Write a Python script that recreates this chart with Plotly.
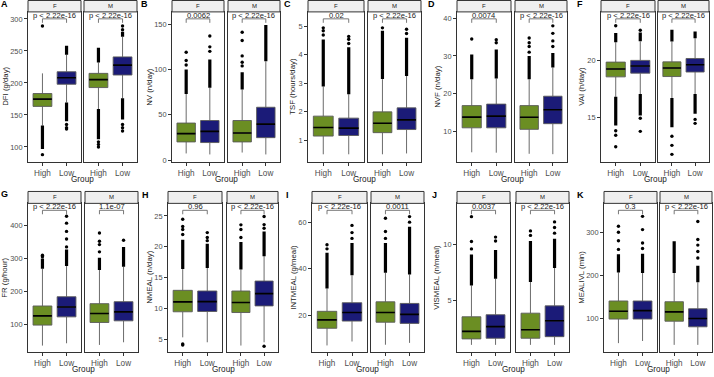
import plotly.graph_objects as go

# ---------------- data ----------------
groups = ["High", "Low"]
sexes = ["F", "M"]
panel_letters = ["A", "B", "C", "D", "F", "G", "H", "I", "J", "K"]
ytitles = ["DFI (g/day)", "NV (n/day)", "TSF (hours/day)", "NVF (n/day)", "VAI (h/day)",
           "FR (g/hour)", "NMEAL (n/day)", "INTMEAL (g/meal)", "VISMEAL (n/meal)", "MEALIVL (min)"]
ytickvals = [[100, 150, 200, 250, 300], [0, 50, 100, 150], [1, 2, 3, 4, 5], [10, 20, 30, 40], [15, 20],
             [100, 200, 300, 400], [5, 10, 15, 20, 25], [20, 40, 60], [5, 10], [100, 200, 300]]
yranges = [[77, 311], [-1.6, 163.5], [0.25, 5.51], [1.9, 41.7], [11.05, 24.33],
           [16, 467], [2.97, 27.03], [4, 68.1], [0.41, 13.65], [21, 367]]
pval_F = ["p < 2.22e-16", "0.0062", "0.02", "0.0074", "p < 2.22e-16",
          "p < 2.22e-16", "0.96", "p < 2.22e-16", "0.0037", "0.3"]
pval_M = ["p < 2.22e-16", "p < 2.22e-16", "p < 2.22e-16", "p < 2.22e-16", "p < 2.22e-16",
          "1.1e-07", "p < 2.22e-16", "0.0011", "p < 2.22e-16", "p < 2.22e-16"]

# box statistics; rows: F-High, F-Low, M-High, M-Low
# columns: lower whisker, Q1, median, Q3, upper whisker
DFI = [[133.5, 163.4, 174.7, 183.5, 215], [169.6, 198, 208.2, 217.5, 244],
       [159.3, 192.8, 205.2, 215, 232], [176, 212.4, 227.8, 240.7, 272]]
DFI_dense = [[[97, 133.5]], [[140, 169.6], [244, 258]], [[112, 159.3], [232, 255]], [[143, 176], [272, 280]]]
DFI_pts = [[88, 289], [135, 130, 128], [108, 104, 100], [135, 130, 125, 283, 289]]

NV = [[7.5, 20.2, 29.3, 41, 73], [6.4, 19.5, 31.8, 43.8, 80],
      [8.5, 20.2, 30, 43.8, 78], [6.4, 24.9, 39.8, 58.4, 109]]
NV_dense = [[[73, 100]], [[80, 111]], [[78, 97]], [[109, 149]]]
NV_pts = [[105, 110, 119], [120, 125, 137], [104, 108, 115, 132, 141], []]

TSF = [[0.51, 1.15, 1.45, 1.85, 2.89], [0.51, 1.17, 1.43, 1.78, 2.62],
       [0.51, 1.27, 1.6, 2.0, 3.15], [0.54, 1.38, 1.72, 2.14, 3.26]]
TSF_dense = [[[2.89, 4.54]], [[2.62, 4.27]], [[3.15, 4.85]], [[3.26, 4.6]]]
TSF_pts = [[4.7, 4.85, 4.95], [4.4, 4.55, 4.65], [4.95], [4.75, 4.9]]

NVF = [[4.4, 10.9, 13.75, 16.8, 23.8], [4.3, 10.9, 14.0, 17.2, 24.0],
       [4.0, 10.5, 13.7, 16.8, 23.8], [3.9, 12.0, 15.7, 19.3, 26.9]]
NVF_dense = [[[23.8, 30.4]], [[24, 31.7]], [[23.8, 30]], [[26.9, 30.8]]]
NVF_pts = [[34.5], [33.5, 34.3], [31, 32.5, 33.5, 34.75], [32.5, 34, 36, 38]]

VAI = [[16.8, 18.57, 19.27, 19.88, 21.64], [17.05, 18.9, 19.53, 20.03, 21.72],
       [16.7, 18.6, 19.36, 19.9, 21.7], [17.05, 19.0, 19.65, 20.2, 22.0]]
VAI_dense = [[[21.64, 22.46], [14.27, 16.8]], [[21.72, 22.5], [15.15, 17.05]],
             [[21.7, 22.75], [14.1, 16.7]], [[22.0, 22.6], [15.3, 17.05]]]
VAI_pts = [[23.1, 13.8, 13.4, 12.37], [22.7, 14.9, 13.74], [13.3, 12.5, 11.7], [14.8, 14.45]]

FR = [[36, 98, 126, 156, 269], [43, 123, 153, 184, 277],
      [38, 106, 133, 163, 265], [46, 111, 138, 169, 275]]
FR_dense = [[[269, 300]], [[277, 327]], [[265, 302]], [[275, 335]]]
FR_pts = [[305, 310], [335, 359, 382, 407, 428], [320, 342, 352, 377], [355]]

NMEAL = [[5.37, 9.5, 11.1, 12.97, 16.4], [4.57, 9.55, 11.15, 12.86, 16.6],
         [4.04, 9.38, 10.99, 12.86, 16.34], [4.57, 10.45, 12.43, 14.47, 18.5]]
NMEAL_dense = [[[16.4, 21.15]], [[16.6, 20.5]], [[16.34, 20.8]], [[18.5, 22.5]]]
NMEAL_pts = [[4.14, 4.3, 22, 22.8, 23.3, 24.47], [21, 21.5, 22.3], [21.5, 22.8, 23.56], [3.93, 23, 23.6, 24.9]]

INTMEAL = [[6.9, 14.3, 17.9, 21.6, 31.4], [8.6, 17.4, 21.1, 25.3, 37.1],
           [7.2, 16.9, 21.1, 25.7, 38.2], [8.0, 16.4, 20.3, 25.0, 37.5]]
INTMEAL_dense = [[[31.4, 46.8]], [[37.1, 51]], [[38.2, 51]], [[37.5, 58]]]
INTMEAL_pts = [[48.5, 50.3], [53, 55.5, 58.6], [53, 56, 61.7], [60, 62.4]]

VISMEAL = [[1.06, 1.59, 2.26, 3.56, 6.35], [1.06, 1.65, 2.68, 3.74, 6.94],
           [1.06, 1.65, 2.41, 3.88, 6.65], [1.06, 1.79, 3.21, 4.53, 7.9]]
VISMEAL_dense = [[[6.35, 9.09]], [[6.94, 9.5]], [[6.65, 10.3]], [[7.9, 10.5]]]
VISMEAL_pts = [[9.6, 10.26, 12.47], [10.3, 10.65], [10.8, 11.2], [11, 11.5, 12.0]]

MEALIVL = [[42, 98, 116, 140, 206.5], [47, 98, 117.6, 140, 205],
           [38, 93, 114.6, 138.3, 205], [38, 80, 99.2, 122, 183.5]]
MEALIVL_dense = [[[206.5, 248.7]], [[205, 250]], [[205, 279]], [[183.5, 222]]]
MEALIVL_pts = [[260, 280, 300, 313.8], [262, 275, 306, 336.8], [], [240, 255, 270, 283, 325]]

stats = [DFI, NV, TSF, NVF, VAI, FR, NMEAL, INTMEAL, VISMEAL, MEALIVL]
dense = [DFI_dense, NV_dense, TSF_dense, NVF_dense, VAI_dense, FR_dense, NMEAL_dense,
         INTMEAL_dense, VISMEAL_dense, MEALIVL_dense]
points = [DFI_pts, NV_pts, TSF_pts, NVF_pts, VAI_pts, FR_pts, NMEAL_pts,
          INTMEAL_pts, VISMEAL_pts, MEALIVL_pts]

# ---------------- layout geometry (pixels) ----------------
W, H = 714, 377
GREEN = "#6b8e23"
NAVY = "#1b1b78"
colors = [GREEN, NAVY]

facets_px = [((28, 81), (84, 137)), ((172, 224), (228, 280)), ((308, 364), (368, 421)),
             ((457, 511), (515, 567)), ((601, 655), (658, 709)),
             ((28, 81), (85, 138)), ((168, 222), (227, 278)), ((312, 367), (371, 424)),
             ((457, 510), (516, 569)), ((604, 657), (660, 712))]
rows_px = [(0.5, 12, 163), (193, 205, 355)]   # strip top, plot top, plot bottom
ytitle_x = [6, 150, 293, 438, 582, 5, 150, 294, 437, 582]
letter_xy = [(4, 4), (144, 4), (287, 4), (432, 4), (580, 4),
             (4.5, 196), (145, 196.5), (287, 196.5), (435, 196.5), (580, 196.5)]

FONT = "Liberation Sans, Arial, sans-serif"


def px_x(p):
    return p / W


def px_y(p):
    return 1 - p / H


fig = go.Figure()
layout = {}
shapes = []
annotations = []

for pi in range(10):
    row = 0 if pi < 5 else 1
    strip_top, plot_top, plot_bot = rows_px[row]
    plot_h = plot_bot - plot_top
    for si in range(2):
        n = pi * 2 + si + 1
        xa = "xaxis" if n == 1 else f"xaxis{n}"
        ya = "yaxis" if n == 1 else f"yaxis{n}"
        xr = "x" if n == 1 else f"x{n}"
        yr = "y" if n == 1 else f"y{n}"
        x0, x1 = facets_px[pi][si]
        layout[xa] = dict(domain=[px_x(x0), px_x(x1)], anchor=yr, range=[-0.6, 1.6],
                          tickvals=[0, 1], ticktext=groups, ticks="outside", ticklen=3,
                          tickcolor="#333333", tickwidth=0.8,
                          tickfont=dict(family=FONT, size=8.2, color="#4d4d4d"),
                          showline=True, mirror=True, linecolor="#333333", linewidth=1,
                          showgrid=False, zeroline=False, fixedrange=True)
        yd = dict(domain=[px_y(plot_bot), px_y(plot_top)], anchor=xr, range=yranges[pi],
                  showline=True, mirror=True, linecolor="#333333", linewidth=1,
                  showgrid=False, zeroline=False, fixedrange=True)
        if si == 0:
            yd.update(tickvals=ytickvals[pi], ticks="outside", ticklen=3, tickcolor="#333333",
                      tickwidth=0.8, tickfont=dict(family=FONT, size=7.4, color="#4d4d4d"))
        else:
            yd.update(matches=f"y{n-1}" if n - 1 > 1 else "y", showticklabels=False, ticks="")
        layout[ya] = yd

        # boxes
        for gi in range(2):
            bi = si * 2 + gi
            lf, q1, med, q3, uf = stats[pi][bi]
            fig.add_trace(go.Box(x=[gi], q1=[q1], median=[med], q3=[q3], lowerfence=[lf],
                                 upperfence=[uf], width=0.78, fillcolor=colors[gi],
                                 line=dict(color="#5a5a5a", width=0.9), boxpoints=False,
                                 whiskerwidth=0, xaxis=xr, yaxis=yr, showlegend=False,
                                 hoverinfo="skip"))
            fig.add_trace(go.Scatter(x=[gi - 0.39, gi + 0.39], y=[med, med], mode="lines",
                                     line=dict(color="black", width=1.6), xaxis=xr, yaxis=yr,
                                     showlegend=False, hoverinfo="skip"))
            for a, b in dense[pi][bi]:
                fig.add_trace(go.Scatter(x=[gi, gi], y=[a, b], mode="lines",
                                         line=dict(color="black", width=3.2), xaxis=xr, yaxis=yr,
                                         showlegend=False, hoverinfo="skip"))
            pts = points[pi][bi]
            if pts:
                fig.add_trace(go.Scatter(x=[gi] * len(pts), y=pts, mode="markers",
                                         marker=dict(color="black", size=3.4), xaxis=xr, yaxis=yr,
                                         showlegend=False, hoverinfo="skip"))

        # strip
        shapes.append(dict(type="rect", xref="paper", yref="paper", x0=px_x(x0), x1=px_x(x1),
                           y0=px_y(plot_top), y1=px_y(strip_top), fillcolor="#efefef",
                           line=dict(color="#333333", width=1), layer="above"))
        annotations.append(dict(xref="paper", yref="paper", x=px_x((x0 + x1) / 2),
                                y=px_y((strip_top + plot_top) / 2), text=sexes[si], showarrow=False,
                                xanchor="center", yanchor="middle",
                                font=dict(family=FONT, size=6, color="#1a1a1a")))

        # comparison bracket
        yb = 1 - 7 / plot_h
        yt = 1 - 11 / plot_h
        bc = dict(color="#555555", width=0.8)
        shapes.append(dict(type="line", xref=xr, yref=f"{yr} domain", x0=0, x1=1, y0=yb, y1=yb, line=bc))
        shapes.append(dict(type="line", xref=xr, yref=f"{yr} domain", x0=0, x1=0, y0=yb, y1=yt, line=bc))
        shapes.append(dict(type="line", xref=xr, yref=f"{yr} domain", x0=1, x1=1, y0=yb, y1=yt, line=bc))
        annotations.append(dict(xref=xr, yref=f"{yr} domain", x=0.5, y=1 - 3.6 / plot_h,
                                text=(pval_F if si == 0 else pval_M)[pi], showarrow=False,
                                xanchor="center", yanchor="middle",
                                font=dict(family=FONT, size=7.6, color="#1a1a1a")))

    # panel titles
    fx0 = facets_px[pi][0][0]
    fx1 = facets_px[pi][1][1]
    annotations.append(dict(xref="paper", yref="paper", x=px_x((fx0 + fx1) / 2),
                            y=px_y(plot_bot + 17.5), text="Group", showarrow=False,
                            xanchor="center", yanchor="middle",
                            font=dict(family=FONT, size=8.2, color="#222222")))
    annotations.append(dict(xref="paper", yref="paper", x=px_x(ytitle_x[pi]),
                            y=px_y((plot_top + plot_bot) / 2), text=ytitles[pi], showarrow=False,
                            textangle=-90, xanchor="center", yanchor="middle",
                            font=dict(family=FONT, size=7.8, color="#222222")))
    lx, ly = letter_xy[pi]
    annotations.append(dict(xref="paper", yref="paper", x=px_x(lx), y=px_y(ly),
                            text=f"<b>{panel_letters[pi]}</b>", showarrow=False,
                            xanchor="center", yanchor="middle",
                            font=dict(family=FONT, size=9, color="black")))

fig.update_layout(width=W, height=H, margin=dict(l=0, r=0, t=0, b=0),
                  paper_bgcolor="white", plot_bgcolor="white", showlegend=False,
                  shapes=shapes, annotations=annotations, **layout)
fig.write_html("out.html", config={"displayModeBar": False},
               post_script="document.body.style.margin='0px';document.body.style.overflow='hidden';")
